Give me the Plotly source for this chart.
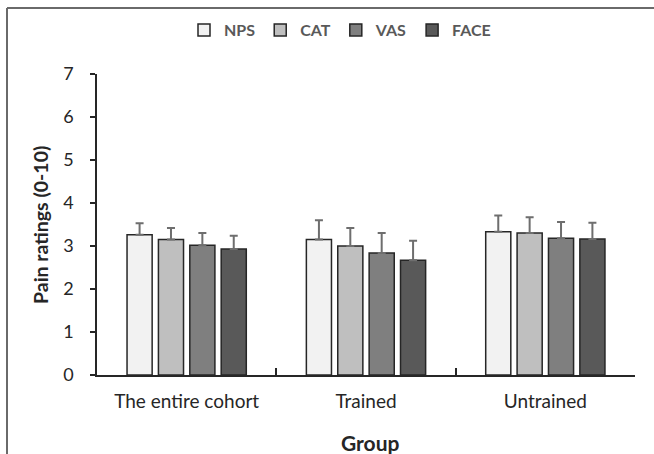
import plotly.graph_objects as go

groups = ["The entire cohort", "Trained", "Untrained"]
series = ["NPS", "CAT", "VAS", "FACE"]
means = {
    "NPS": [3.26, 3.15, 3.33],
    "CAT": [3.15, 3.00, 3.30],
    "VAS": [3.02, 2.84, 3.18],
    "FACE": [2.93, 2.67, 3.16],
}
errors = {
    "NPS": [0.27, 0.45, 0.38],
    "CAT": [0.27, 0.42, 0.37],
    "VAS": [0.28, 0.46, 0.38],
    "FACE": [0.31, 0.45, 0.38],
}
colors = {"NPS": "#f2f2f2", "CAT": "#bfbfbf", "VAS": "#7f7f7f", "FACE": "#595959"}
y_ticks = [0, 1, 2, 3, 4, 5, 6, 7]

FONT = "Lato, 'Open Sans', sans-serif"

fig = go.Figure()
for s in series:
    fig.add_trace(go.Bar(
        name=s, x=groups, y=means[s],
        marker=dict(color=colors[s], line=dict(color="#262626", width=1.5)),
        error_y=dict(type="data", array=errors[s], symmetric=False, arrayminus=[0, 0, 0],
                     color="#6e6e6e", thickness=2, width=4),
    ))

W, H = 654, 454
L, R, T, B = 97, 19, 74, 79
pw, ph = W - L - R, H - T - B

def px_x(p):
    return (p - L) / pw

def px_y(p):
    return (H - B - p) / ph

fig.update_layout(
    width=W, height=H,
    margin=dict(l=L, r=R, t=T, b=B, autoexpand=False),
    paper_bgcolor="white", plot_bgcolor="white",
    barmode="group", bargap=0.30, bargroupgap=0.2,
    font=dict(family=FONT, color="#262626"),
    showlegend=True,
    legend=dict(orientation="h", x=px_x(340), xanchor="center", y=px_y(30), yanchor="middle",
                font=dict(size=16, color="#595959", family=FONT, weight="bold"),
                itemwidth=30, traceorder="normal", tracegroupgap=0),
    xaxis=dict(
        automargin=False,
        showline=True, linecolor="#262626", linewidth=1.5,
        ticks="inside", tickson="boundaries", ticklen=7, tickcolor="#262626", tickwidth=1.5,
        tickfont=dict(size=19, color="#262626"), ticklabelstandoff=8,
        showgrid=False,
    ),
    yaxis=dict(
        automargin=False,
        range=[0, 7], tickvals=y_ticks, showline=True, linecolor="#262626", linewidth=1.5,
        ticks="outside", ticklen=5, tickcolor="#262626", tickwidth=1.5,
        tickfont=dict(size=18, color="#262626"), ticklabelstandoff=13,
        showgrid=False, zeroline=False,
    ),
    annotations=[
        dict(text="<b>Group</b>", xref="paper", yref="paper", x=px_x(370), y=px_y(442),
             xanchor="center", yanchor="middle", showarrow=False,
             font=dict(size=21, color="#262626", family=FONT)),
        dict(text="<b>Pain ratings (0-10)</b>", xref="paper", yref="paper", x=px_x(40), y=px_y(225),
             xanchor="center", yanchor="middle", showarrow=False, textangle=-90,
             font=dict(size=19.5, color="#262626", family=FONT)),
    ],
    shapes=[
        dict(type="line", xref="paper", yref="paper", x0=px_x(7), x1=px_x(660), y0=px_y(8), y1=px_y(8),
             line=dict(color="#6a6a6a", width=2)),
        dict(type="line", xref="paper", yref="paper", x0=px_x(7), x1=px_x(7), y0=px_y(8), y1=px_y(460),
             line=dict(color="#6a6a6a", width=2)),
    ],
)

fig.write_html("out.html", config={"displayModeBar": False},
               post_script="document.body.style.margin='0';document.body.style.overflow='hidden';")
